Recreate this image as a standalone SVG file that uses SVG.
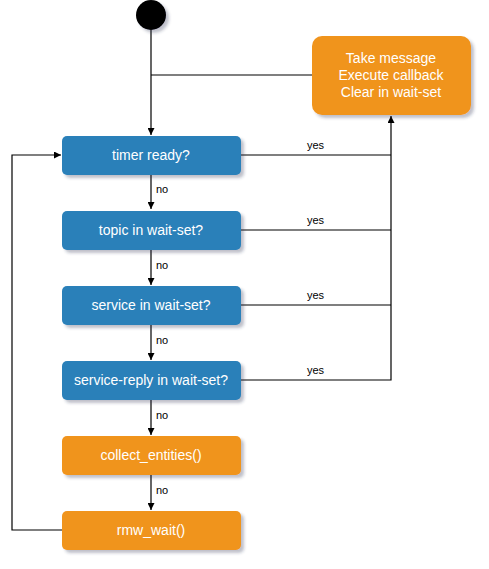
<svg xmlns="http://www.w3.org/2000/svg" width="489" height="569" viewBox="0 0 489 569">
<defs>
<filter id="sh" x="-20%" y="-20%" width="140%" height="160%">
<feGaussianBlur in="SourceAlpha" stdDeviation="1.5"/>
<feOffset dx="3" dy="3" result="b"/>
<feFlood flood-color="#2a3050" flood-opacity="0.3"/>
<feComposite in2="b" operator="in"/>
<feMerge><feMergeNode/><feMergeNode in="SourceGraphic"/></feMerge>
</filter>
<marker id="ar" viewBox="0 0 10 10" refX="10" refY="5" markerWidth="7" markerHeight="7" markerUnits="userSpaceOnUse" orient="auto">
<path d="M0,0 L10,5 L0,10 z" fill="#000"/>
</marker>
</defs>
<style>
.blue{fill:#2b80b9}
.orange{fill:#f0941e}
.nt{font-family:"Liberation Sans",Arial,sans-serif;font-size:14px;fill:#fff;text-anchor:middle}
.lb{font-family:"Liberation Sans",Arial,sans-serif;font-size:11px;fill:#000}
.ln{fill:none;stroke:#000;stroke-width:1.2}
</style>
<rect width="489" height="569" fill="#fff"/>
<g id="connectors">
<path class="ln" d="M151,30 V135" marker-end="url(#ar)"/>
<path class="ln" d="M312,75 H151"/>
<path class="ln" d="M241,155 H391"/>
<path class="ln" d="M241,230 H391"/>
<path class="ln" d="M241,305 H391"/>
<path class="ln" d="M241,380 H391 V116" marker-end="url(#ar)"/>
<path class="ln" d="M151,175 V209" marker-end="url(#ar)"/>
<path class="ln" d="M151,250 V285" marker-end="url(#ar)"/>
<path class="ln" d="M151,325 V360" marker-end="url(#ar)"/>
<path class="ln" d="M151,400 V435" marker-end="url(#ar)"/>
<path class="ln" d="M151,475 V510" marker-end="url(#ar)"/>
<path class="ln" d="M62,530 H12 V155 H61" marker-end="url(#ar)"/>
<text class="lb" x="307" y="149">yes</text>
<text class="lb" x="307" y="224">yes</text>
<text class="lb" x="307" y="299">yes</text>
<text class="lb" x="307" y="374">yes</text>
<text class="lb" x="156" y="193">no</text>
<text class="lb" x="156" y="269">no</text>
<text class="lb" x="156" y="344">no</text>
<text class="lb" x="156" y="419">no</text>
<text class="lb" x="156" y="494">no</text>
</g>
<g id="start"><circle cx="151" cy="15" r="15" fill="#000" filter="url(#sh)"/></g>
<g id="take"><rect class="orange" x="312" y="36" width="159" height="79" rx="10" filter="url(#sh)"/>
<text class="nt" x="391" y="63">Take message</text><text class="nt" x="391" y="80">Execute callback</text><text class="nt" x="391" y="97">Clear in wait-set</text></g>
<g id="timer"><rect class="blue" x="62" y="136" width="179" height="39" rx="5" filter="url(#sh)"/><text class="nt" x="151" y="160">timer ready?</text></g>
<g id="topic"><rect class="blue" x="62" y="211" width="179" height="39" rx="5" filter="url(#sh)"/><text class="nt" x="151" y="235">topic in wait-set?</text></g>
<g id="service"><rect class="blue" x="62" y="286" width="179" height="39" rx="5" filter="url(#sh)"/><text class="nt" x="151" y="310">service in wait-set?</text></g>
<g id="reply"><rect class="blue" x="62" y="361" width="179" height="39" rx="5" filter="url(#sh)"/><text class="nt" x="151" y="385">service-reply in wait-set?</text></g>
<g id="collect"><rect class="orange" x="62" y="436" width="179" height="39" rx="5" filter="url(#sh)"/><text class="nt" x="151" y="460">collect_entities()</text></g>
<g id="rmw"><rect class="orange" x="62" y="511" width="179" height="39" rx="5" filter="url(#sh)"/><text class="nt" x="151" y="535">rmw_wait()</text></g>
</svg>
